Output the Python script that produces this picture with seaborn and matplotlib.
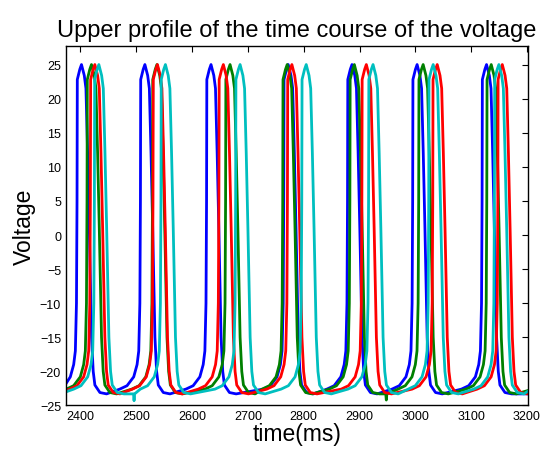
import numpy as np
import pandas as pd
import matplotlib
matplotlib.use('Agg')
import matplotlib.pyplot as plt
import seaborn as sns

# spike peak times (ms), one list per trace
blue_peaks = [2401.8, 2515.4, 2633.9, 2772.2, 2886.5, 3003.2, 3127.6]
green_peaks = [2419.7, 2537.0, 2668.0, 2770.4, 2890.7, 3014.0, 3136.0]
red_peaks = [2425.7, 2537.9, 2656.0, 2778.8, 2912.2, 3039.2, 3155.8]
cyan_peaks = [2432.9, 2552.2, 2686.0, 2804.5, 2924.2, 3032.0, 3149.7]

# shape of one spike around its peak (offset in ms, voltage)
spike_offset = [-45, -32, -20, -14, -11, -9, -8, -7.5, -3, 0, 5, 8, 11, 14, 18, 21, 24, 33, 45]
spike_volt = [-22.6, -22.1, -20.8, -19.0, -17.0, -10.0, 5.0, 22.8, 24.3, 25.0, 23.4, 21.5,
              12.0, 1.0, -15.0, -20.0, -22.0, -23.1, -23.3]

# first / last samples of each trace
t_start, t_end = 2374, 3202
start_volt = {'blue': -21.8, 'green': -23.0, 'red': -22.8, 'cyan': -23.0}
end_volt = {'blue': -23.3, 'green': -22.8, 'red': -23.2, 'cyan': -22.9}

# small glitches in the baseline
cyan_glitch_t = [2495, 2496, 2497]
cyan_glitch_v = [-23.3, -24.3, -23.3]
green_glitch_t = [2947, 2948, 2949]
green_glitch_v = [-23.3, -24.2, -23.3]

trace_colors = {'blue': '#0000ff', 'green': '#008000', 'red': '#ff0000', 'cyan': '#00bfbf'}


def build_trace(name, peaks, extra_t=(), extra_v=()):
    t = [t_start]
    v = [start_volt[name]]
    for p in peaks:
        t += [p + o for o in spike_offset]
        v += spike_volt
    t += list(extra_t) + [t_end]
    v += list(extra_v) + [end_volt[name]]
    t = np.array(t)
    v = np.array(v)
    order = np.argsort(t, kind='stable')
    t, v = t[order], v[order]
    keep = (t >= t_start) & (t <= t_end)
    return pd.DataFrame({'time': t[keep], 'Voltage': v[keep], 'trace': name})


df = pd.concat([
    build_trace('blue', blue_peaks),
    build_trace('green', green_peaks, green_glitch_t, green_glitch_v),
    build_trace('red', red_peaks),
    build_trace('cyan', cyan_peaks, cyan_glitch_t, cyan_glitch_v),
], ignore_index=True)

sns.set_style('white')
plt.rcParams['font.family'] = ['Liberation Sans', 'DejaVu Sans']
plt.rcParams['text.color'] = 'black'
plt.rcParams['axes.labelcolor'] = 'black'

fig = plt.figure(figsize=(5.43, 4.52), dpi=100)
ax = fig.add_axes([0.1215, 0.1007, 0.851, 0.795])

sns.lineplot(data=df, x='time', y='Voltage', hue='trace',
             hue_order=['blue', 'green', 'red', 'cyan'], palette=trace_colors,
             estimator=None, sort=False, units='trace', linewidth=2.0, legend=False, ax=ax)

ax.set_xlim(t_start, t_end)
ax.set_ylim(-25, 27.7)
ax.set_xticks(np.arange(2400, 3201, 100))
ax.set_yticks(np.arange(-25, 26, 5))
ax.tick_params(direction='in', length=4.5, width=0.8, top=True, right=True, labelsize=9, colors='black')
for sp in ax.spines.values():
    sp.set_visible(True)
    sp.set_color('black')
    sp.set_linewidth(1.0)

ax.set_title('Upper profile of the time course of the voltage', fontsize=17, pad=7, color='black')
ax.set_xlabel('time(ms)', fontsize=16.5, labelpad=0)
ax.set_ylabel('Voltage', fontsize=16.5, labelpad=3)

fig.savefig('out.png', dpi=100)
